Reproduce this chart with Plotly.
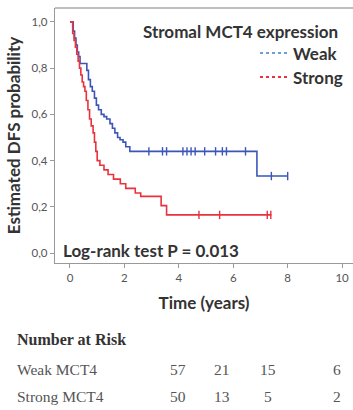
import plotly.graph_objects as go

# ---- data ----
weak_t = [0.0, 0.07, 0.12, 0.17, 0.22, 0.27, 0.32, 0.37, 0.62, 0.68, 0.75, 0.82, 0.9, 0.97,
          1.05, 1.15, 1.25, 1.35, 1.47, 1.56, 1.65, 1.75, 1.84, 1.95, 2.05, 2.2, 6.87, 8.0]
weak_s = [1.0, 1.0, 0.96, 0.93, 0.90, 0.87, 0.85, 0.82, 0.79, 0.75, 0.72, 0.70, 0.67, 0.64,
          0.62, 0.60, 0.59, 0.58, 0.56, 0.54, 0.52, 0.50, 0.49, 0.48, 0.46, 0.44, 0.333, 0.333]
weak_cens_t = [2.9, 3.4, 3.55, 4.15, 4.3, 4.45, 4.6, 4.95, 5.35, 5.6, 5.75, 6.45, 7.4, 8.0]
weak_cens_s = [0.44] * 12 + [0.333, 0.333]

strong_t = [0.0, 0.05, 0.1, 0.15, 0.2, 0.25, 0.3, 0.35, 0.4, 0.45, 0.5, 0.55, 0.6, 0.66, 0.72,
            0.78, 0.85, 0.9, 0.95, 1.0, 1.1, 1.25, 1.4, 1.6, 1.85, 2.05, 2.4, 2.6, 3.35, 3.55, 7.4]
strong_s = [1.0, 1.0, 0.95, 0.92, 0.89, 0.86, 0.83, 0.80, 0.77, 0.74, 0.72, 0.70, 0.66, 0.62, 0.58,
            0.55, 0.52, 0.48, 0.44, 0.40, 0.38, 0.36, 0.34, 0.32, 0.30, 0.28, 0.26, 0.245, 0.205, 0.165, 0.165]
strong_cens_t = [4.74, 5.5, 7.25, 7.38]
strong_cens_s = [0.165] * 4

x_ticks = [0, 2, 4, 6, 8, 10]
y_ticks = [0.0, 0.2, 0.4, 0.6, 0.8, 1.0]
y_labels = ["0,0", "0,2", "0,4", "0,6", "0,8", "1,0"]

risk_groups = ["Weak MCT4", "Strong MCT4"]
risk_weak = [57, 21, 15, 6]
risk_strong = [50, 13, 5, 2]

BLUE = "#3b56b8"
RED = "#e8333e"

W, H = 353, 410
L, R, T, B = 55, 0, 8, 147
pw, ph = W - L - R, H - T - B


def px(x):
    return (x - L) / pw


def py(y):
    return (H - B - y) / ph


fig = go.Figure()
fig.add_trace(go.Scatter(x=weak_t, y=weak_s, mode="lines", line=dict(color=BLUE, width=1.6, shape="hv"),
                         showlegend=False, hoverinfo="skip"))
fig.add_trace(go.Scatter(x=strong_t, y=strong_s, mode="lines", line=dict(color=RED, width=1.6, shape="hv"),
                         showlegend=False, hoverinfo="skip"))
fig.add_trace(go.Scatter(x=weak_cens_t, y=weak_cens_s, mode="markers",
                         marker=dict(symbol="line-ns", size=6, line=dict(color=BLUE, width=1.4)),
                         showlegend=False, hoverinfo="skip"))
fig.add_trace(go.Scatter(x=strong_cens_t, y=strong_cens_s, mode="markers",
                         marker=dict(symbol="line-ns", size=6, line=dict(color=RED, width=1.4)),
                         showlegend=False, hoverinfo="skip"))

axis_font = dict(family="Lato, Open Sans, sans-serif", size=11.5, color="#555")
title_font = dict(family="Lato, sans-serif", size=17, color="#333")
fig.update_xaxes(range=[-0.55, 10.4], tickvals=x_ticks, ticktext=[str(v) for v in x_ticks],
                 showgrid=False, zeroline=False, showline=True, linecolor="#999", linewidth=1.3,
                 ticks="outside", ticklen=4, tickcolor="#999", tickfont=axis_font,
                 title=dict(text="<b>Time (years)</b>", font=title_font, standoff=14))
fig.update_yaxes(range=[-0.043, 1.06], tickvals=y_ticks, ticktext=y_labels,
                 showgrid=False, zeroline=False, showline=True, linecolor="#999", linewidth=1.3,
                 ticks="outside", ticklen=4, tickcolor="#999", tickfont=axis_font,
                 title=dict(text="<b>Estimated DFS probability</b>", font=title_font, standoff=6))

shapes = [
    dict(type="line", xref="paper", yref="paper", x0=0, x1=1, y0=1, y1=1, line=dict(color="#aaa", width=1.3)),
    dict(type="line", xref="paper", yref="paper", x0=px(260), x1=px(288), y0=py(53), y1=py(53),
         line=dict(color="#6a9ee0", width=1.8, dash="dot")),
    dict(type="line", xref="paper", yref="paper", x0=px(260), x1=px(288), y0=py(77), y1=py(77),
         line=dict(color="#e8333e", width=1.8, dash="dot")),
]

bold = dict(family="Lato, sans-serif", size=17, color="#333")
serif = dict(family="Liberation Serif, serif", size=15.5, color="#555")
ann = [
    dict(text="<b>Stromal MCT4 expression</b>", x=px(340), y=py(31), xanchor="right", yanchor="middle", font=bold),
    dict(text="<b>Weak</b>", x=px(291), y=py(53), xanchor="left", yanchor="middle", font=bold),
    dict(text="<b>Strong</b>", x=px(291), y=py(77), xanchor="left", yanchor="middle", font=bold),
    dict(text="<b>Log-rank test P = 0.013</b>", x=px(61), y=py(250), xanchor="left", yanchor="middle", font=bold),
    dict(text="<b>Number at Risk</b>", x=px(15), y=py(339), xanchor="left", yanchor="middle",
         font=dict(family="Liberation Serif, serif", size=16, color="#333")),
]
col_x = [178, 222, 268, 337]
row_y = [369, 396]
for gi, (g, vals) in enumerate(zip(risk_groups, [risk_weak, risk_strong])):
    ann.append(dict(text=g, x=px(15), y=py(row_y[gi]), xanchor="left", yanchor="middle", font=serif))
    for cx, v in zip(col_x, vals):
        ann.append(dict(text=str(v), x=px(cx), y=py(row_y[gi]), xanchor="center", yanchor="middle", font=serif))
for a in ann:
    a.update(xref="paper", yref="paper", showarrow=False)

fig.update_layout(width=W, height=H, margin=dict(l=L, r=R, t=T, b=B), plot_bgcolor="white",
                  paper_bgcolor="white", shapes=shapes, annotations=ann)

fig.write_html("out.html", config={"displayModeBar": False},
               post_script="document.body.style.margin='0';document.body.style.overflow='hidden';")
